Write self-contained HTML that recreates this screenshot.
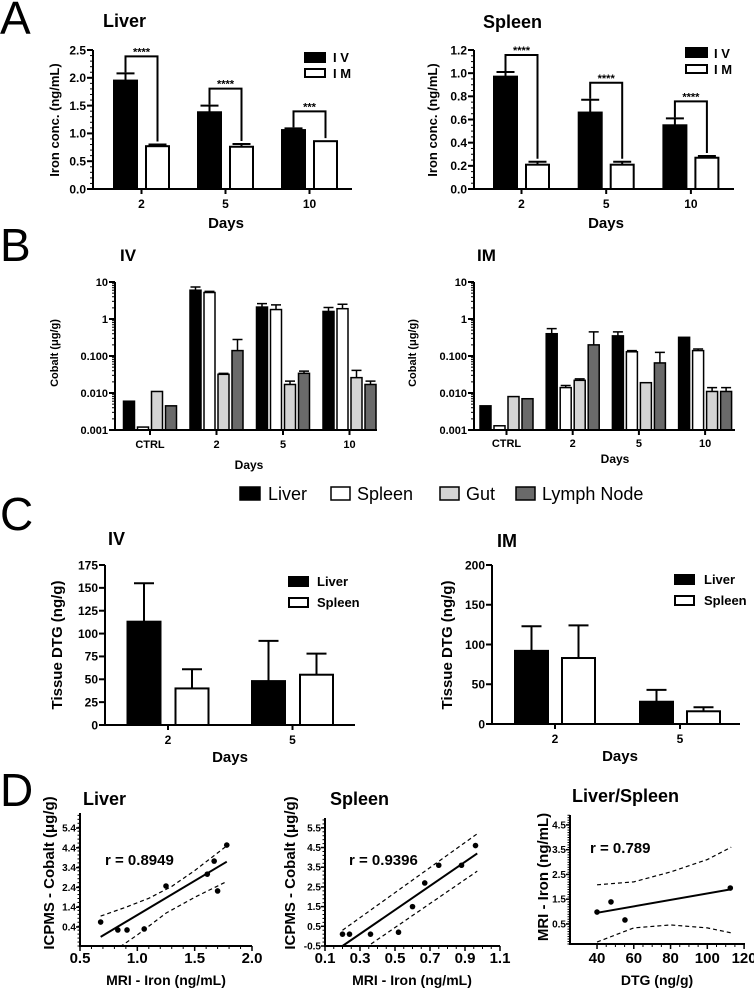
<!DOCTYPE html>
<html><head><meta charset="utf-8">
<style>
body{margin:0;background:#fff;}
svg{display:block;font-family:"Liberation Sans",Arial,sans-serif;}
.b{font-weight:bold;}
.n{font-family:"Liberation Sans Narrow","Liberation Sans",sans-serif;font-weight:bold;}
</style></head>
<body>
<svg id="fig" width="754" height="989" viewBox="0 0 754 989" xmlns="http://www.w3.org/2000/svg">
<rect x="0" y="0" width="754" height="989" fill="#fff"/>
<text x="0" y="34" font-size="46">A</text>
<text x="0" y="261" font-size="46">B</text>
<text x="0" y="530" font-size="46">C</text>
<text x="0" y="806" font-size="46">D</text>
<text x="103" y="27" class="b" font-size="18">Liver</text>
<text x="483" y="28" class="b" font-size="18">Spleen</text>
<text transform="translate(59,120) rotate(-90)" text-anchor="middle" class="b" font-size="13">Iron conc. (ng/mL)</text>
<text transform="translate(437,120) rotate(-90)" text-anchor="middle" class="b" font-size="13">Iron conc. (ng/mL)</text>
<text x="226" y="228" text-anchor="middle" class="b" font-size="15">Days</text>
<text x="606" y="228" text-anchor="middle" class="b" font-size="15">Days</text>
<rect x="305" y="53" width="20" height="9" fill="#000" stroke="#000" stroke-width="2"/>
<text x="333" y="62" class="b" font-size="13">I V</text>
<rect x="305" y="69" width="20" height="8" fill="#fff" stroke="#000" stroke-width="2"/>
<text x="333" y="78" class="b" font-size="13">I M</text>
<rect x="686" y="48" width="21" height="9" fill="#000" stroke="#000" stroke-width="2"/>
<text x="714" y="58" class="b" font-size="13">I V</text>
<rect x="686" y="65" width="21" height="8" fill="#fff" stroke="#000" stroke-width="2"/>
<text x="714" y="74" class="b" font-size="13">I M</text>
<text x="120" y="261" class="b" font-size="17">IV</text>
<text x="477" y="261" class="b" font-size="17">IM</text>
<text transform="translate(58,353) rotate(-90)" text-anchor="middle" class="b" font-size="11">Cobalt (μg/g)</text>
<text transform="translate(416,353) rotate(-90)" text-anchor="middle" class="b" font-size="11">Cobalt (μg/g)</text>
<text x="249" y="469" text-anchor="middle" class="b" font-size="12">Days</text>
<text x="615" y="463" text-anchor="middle" class="b" font-size="12">Days</text>
<rect x="240" y="487" width="20" height="13" fill="#000" stroke="#000" stroke-width="1.5"/>
<text x="268" y="500" font-size="18">Liver</text>
<rect x="331" y="487" width="19" height="13" fill="#fff" stroke="#000" stroke-width="1.5"/>
<text x="357" y="500" font-size="18">Spleen</text>
<rect x="440" y="487" width="19" height="13" fill="#d4d4d4" stroke="#000" stroke-width="1.5"/>
<text x="466" y="500" font-size="18">Gut</text>
<rect x="516" y="487" width="19" height="13" fill="#6a6a6a" stroke="#000" stroke-width="1.5"/>
<text x="542" y="500" font-size="18">Lymph Node</text>
<text x="108" y="545" class="b" font-size="18">IV</text>
<text x="497" y="547" class="b" font-size="18">IM</text>
<text transform="translate(62,645) rotate(-90)" text-anchor="middle" class="b" font-size="15">Tissue DTG (ng/g)</text>
<text transform="translate(452,645) rotate(-90)" text-anchor="middle" class="b" font-size="15">Tissue DTG (ng/g)</text>
<text x="230" y="762" text-anchor="middle" class="b" font-size="15">Days</text>
<text x="620" y="761" text-anchor="middle" class="b" font-size="15">Days</text>
<rect x="289" y="577" width="19" height="9" fill="#000" stroke="#000" stroke-width="2"/>
<text x="317" y="586" class="b" font-size="13">Liver</text>
<rect x="289" y="598" width="19" height="9" fill="#fff" stroke="#000" stroke-width="2"/>
<text x="317" y="607" class="b" font-size="13">Spleen</text>
<rect x="675" y="575" width="19" height="9" fill="#000" stroke="#000" stroke-width="2"/>
<text x="704" y="584" class="b" font-size="13">Liver</text>
<rect x="675" y="596" width="19" height="9" fill="#fff" stroke="#000" stroke-width="2"/>
<text x="704" y="605" class="b" font-size="13">Spleen</text>
<text x="83" y="805" class="n" font-size="18">Liver</text>
<text x="330" y="805" class="n" font-size="18">Spleen</text>
<text x="572" y="802" class="n" font-size="18">Liver/Spleen</text>
<text x="105" y="865" class="n" font-size="15">r = 0.8949</text>
<text x="349" y="865" class="n" font-size="15">r = 0.9396</text>
<text x="590" y="853" class="n" font-size="15">r = 0.789</text>
<text transform="translate(54,873) rotate(-90)" text-anchor="middle" class="n" font-size="15">ICPMS - Cobalt (μg/g)</text>
<text transform="translate(295,873) rotate(-90)" text-anchor="middle" class="n" font-size="15">ICPMS - Cobalt (μg/g)</text>
<text transform="translate(548,877) rotate(-90)" text-anchor="middle" class="n" font-size="15">MRI - Iron (ng/mL)</text>
<text x="166" y="985" text-anchor="middle" class="n" font-size="14">MRI - Iron (ng/mL)</text>
<text x="412" y="985" text-anchor="middle" class="n" font-size="14">MRI - Iron (ng/mL)</text>
<text x="657" y="985" text-anchor="middle" class="n" font-size="14">DTG  (ng/g)</text>
<g id="marks"></g>
</svg>
<script>
const aDays = ["2","5","10"];
const aLiverIV = [1.95, 1.38, 1.06];
const aLiverIVErr = [0.13, 0.12, 0.03];
const aLiverIM = [0.77, 0.76, 0.86];
const aLiverIMErr = [0.03, 0.05, 0.0];
const aLiverSig = ["****","****","***"];
const aLiverTicks = [0, 0.5, 1.0, 1.5, 2.0, 2.5];
const aLiverTickLabels = ["0.0","0.5","1.0","1.5","2.0","2.5"];
const aSpleenIV = [0.97, 0.66, 0.55];
const aSpleenIVErr = [0.04, 0.11, 0.06];
const aSpleenIM = [0.21, 0.21, 0.27];
const aSpleenIMErr = [0.025, 0.025, 0.015];
const aSpleenSig = ["****","****","****"];
const aSpleenTicks = [0, 0.2, 0.4, 0.6, 0.8, 1.0, 1.2];
const aSpleenTickLabels = ["0.0","0.2","0.4","0.6","0.8","1.0","1.2"];
const bCats = ["CTRL","2","5","10"];
const bTicks = [0.001, 0.01, 0.1, 1, 10];
const bTickLabels = ["0.001","0.010","0.100","1","10"];
const bIVLiver = [0.006, 6.0, 2.1, 1.6];
const bIVLiverErr = [0, 1.3, 0.5, 0.45];
const bIVSpleen = [0.0012, 5.2, 1.8, 1.9];
const bIVSpleenErr = [0, 0.4, 0.6, 0.6];
const bIVGut = [0.011, 0.032, 0.017, 0.026];
const bIVGutErr = [0, 0.002, 0.004, 0.015];
const bIVLymph = [0.0045, 0.14, 0.034, 0.017];
const bIVLymphErr = [0, 0.14, 0.005, 0.004];
const bIMLiver = [0.0045, 0.4, 0.35, 0.32];
const bIMLiverErr = [0, 0.15, 0.1, 0];
const bIMSpleen = [0.0013, 0.014, 0.13, 0.14];
const bIMSpleenErr = [0, 0.002, 0.01, 0.015];
const bIMGut = [0.008, 0.022, 0.019, 0.011];
const bIMGutErr = [0, 0.002, 0, 0.003];
const bIMLymph = [0.007, 0.2, 0.065, 0.011];
const bIMLymphErr = [0, 0.25, 0.06, 0.003];
const cDays = ["2","5"];
const cIVLiver = [113, 48];
const cIVLiverErr = [42, 44];
const cIVSpleen = [40, 55];
const cIVSpleenErr = [21, 23];
const cIVTicks = [0,25,50,75,100,125,150,175];
const cIVTickLabels = ["0","25","50","75","100","125","150","175"];
const cIMLiver = [92, 28];
const cIMLiverErr = [31, 15];
const cIMSpleen = [83, 16];
const cIMSpleenErr = [41, 5];
const cIMTicks = [0,50,100,150,200];
const cIMTickLabels = ["0","50","100","150","200"];
const dLiverX = [0.68, 0.83, 0.91, 1.06, 1.25, 1.61, 1.67, 1.70, 1.78];
const dLiverY = [0.65, 0.25, 0.25, 0.3, 2.47, 3.07, 3.73, 2.22, 4.54];
const dLiverFitX = [0.68, 1.78];
const dLiverFitY = [-0.1, 3.7];
const dLiverBandX = [0.68, 0.9, 1.1, 1.3, 1.5, 1.78];
const dLiverBandUp = [0.95, 1.4, 1.85, 2.45, 3.25, 4.5];
const dLiverBandLoX = [0.85, 1.0, 1.25, 1.5, 1.78];
const dLiverBandLo = [-0.6, 0.0, 1.1, 1.9, 2.7];
const dLiverXTicks = [0.5, 1.0, 1.5, 2.0];
const dLiverXTickLabels = ["0.5","1.0","1.5","2.0"];
const dLiverYTicks = [0.4, 1.4, 2.4, 3.4, 4.4, 5.4];
const dLiverYTickLabels = ["0.4","1.4","2.4","3.4","4.4","5.4"];
const dSpleenX = [0.2, 0.24, 0.36, 0.52, 0.6, 0.67, 0.75, 0.88, 0.96];
const dSpleenY = [0.1, 0.1, 0.1, 0.2, 1.5, 2.7, 3.6, 3.6, 4.6];
const dSpleenFitX = [0.2, 0.97];
const dSpleenFitY = [-0.5, 4.2];
const dSpleenBandUpX = [0.2, 0.97];
const dSpleenBandUp = [0.3, 5.2];
const dSpleenBandLoX = [0.33, 0.97];
const dSpleenBandLo = [-0.6, 3.3];
const dSpleenXTicks = [0.1, 0.3, 0.5, 0.7, 0.9, 1.1];
const dSpleenXTickLabels = ["0.1","0.3","0.5","0.7","0.9","1.1"];
const dSpleenYTicks = [-0.5, 0.5, 1.5, 2.5, 3.5, 4.5, 5.5];
const dSpleenYTickLabels = ["-0.5","0.5","1.5","2.5","3.5","4.5","5.5"];
const dLSX = [40, 47.6, 55.2, 112.5];
const dLSY = [0.98, 1.39, 0.66, 1.95];
const dLSFitX = [40, 113];
const dLSFitY = [0.95, 1.9];
const dLSBandX = [40, 60, 80, 100, 113];
const dLSBandUp = [2.08, 2.2, 2.6, 3.1, 3.6];
const dLSBandLo = [-0.23, 0.34, 0.46, 0.34, 0.14];
const dLSXTicks = [40, 60, 80, 100, 120];
const dLSXTickLabels = ["40","60","80","100","120"];
const dLSYTicks = [0.5, 1.5, 2.5, 3.5, 4.5];
const dLSYTickLabels = ["0.5","1.5","2.5","3.5","4.5"];

const NS = "http://www.w3.org/2000/svg";
const root = document.getElementById("marks");
function el(tag, attrs, parent) {
  const e = document.createElementNS(NS, tag);
  for (const k in attrs) e.setAttribute(k, attrs[k]);
  (parent || root).appendChild(e);
  return e;
}
function line(x1, y1, x2, y2, w, g) {
  return el("line", {x1:x1, y1:y1, x2:x2, y2:y2, stroke:"#000", "stroke-width":w}, g);
}
function makeY(c) {
  if (c.log) {
    const a = Math.log10(c.vmin), b = Math.log10(c.vmax);
    return v => c.yBot - (Math.log10(v) - a) / (b - a) * (c.yBot - c.yTop);
  }
  return v => c.yBot - (v - c.vmin) / (c.vmax - c.vmin) * (c.yBot - c.yTop);
}

function barChart(c, cats, series, errs, fills, sNames, ticks, tickLabels) {
  const g = el("g", {});
  
  
  const y = makeY(c);
  const xc = i => c.first + i * c.step;
  const n = series.length;
  const groupW = n * c.barW + (n - 1) * c.gap;
  if (c.log) {
    for (let d = Math.log10(c.vmin); d < Math.log10(c.vmax); d++) {
      for (let m = 2; m < 10; m++) {
        const t = line(c.x0 - 3, y(m * Math.pow(10, d)), c.x0, y(m * Math.pow(10, d)), 1, g);
        
        
      }
    }
  } else if (c.minor) {
    for (let v = c.vmin; v <= c.vmax + 1e-9; v += c.minor) {
      const t = line(c.x0 - 3, y(v), c.x0, y(v), 1, g);
      
      
    }
  }
  for (let s = 0; s < n; s++) {
    for (let i = 0; i < cats.length; i++) {
      const v = series[s][i];
      const bx = xc(i) - groupW / 2 + s * (c.barW + c.gap);
      const top = y(v);
      const r = el("rect", {x:bx, y:top, width:c.barW, height:c.yBot - top, fill:fills[s], stroke:"#000", "stroke-width":c.sw || 2}, g);
      
      
      const e = errs[s][i];
      if (e > 0) {
        const ex = bx + c.barW / 2;
        const ey = y(v + e);
        const eg = el("path", {d:"M" + ex + " " + top + "V" + ey + "M" + (ex - c.cap) + " " + ey + "H" + (ex + c.cap), stroke:"#000", "stroke-width":c.sw || 2, fill:"none"}, g);
        
        
      }
    }
  }
  const ya = line(c.x0, c.yBot + 1, c.x0, c.yTop, 2, g);
  
  
  const xa = line(c.x0, c.yBot, c.x1, c.yBot, 2, g);
  
  
  for (let k = 0; k < ticks.length; k++) {
    const ty = y(ticks[k]);
    const t = line(c.x0 - 6, ty, c.x0, ty, 2, g);
    
    
    const tl = el("text", {x:c.x0 - 7, y:ty + c.fs * 0.36, "text-anchor":"end", "font-size":c.fs, "font-weight":"bold"}, g);
    tl.textContent = tickLabels[k];
    
    
  }
  for (let i = 0; i < cats.length; i++) {
    const t = line(xc(i), c.yBot, xc(i), c.yBot + 5, 2, g);
    
    
    const tl = el("text", {x:xc(i), y:c.xLabY, "text-anchor":"middle", "font-size":c.xfs || c.fs, "font-weight":"bold"}, g);
    tl.textContent = cats[i];
    
    
  }
  return {y:y, xc:xc, groupW:groupW, g:g};
}

function brackets(ch, c, iv, ivErr, im, imErr, sig) {
  for (let i = 0; i < iv.length; i++) {
    const xl = ch.xc(i) - ch.groupW / 2 + c.barW / 2;
    const xr = xl + c.barW + c.gap;
    const yl = ch.y(iv[i] + ivErr[i]) - 1;
    const yr = ch.y(im[i] + imErr[i]) - 3;
    const yh = yl - 16;
    const p = el("path", {d:"M" + xl + " " + yl + "V" + yh + "H" + xr + "V" + yr, stroke:"#000", "stroke-width":2, fill:"none"}, ch.g);
    
    
    const t = el("text", {x:(xl + xr) / 2, y:yh - 1, "text-anchor":"middle", "font-size":11, "font-weight":"bold"}, ch.g);
    t.textContent = sig[i];
    
    
  }
}

const cAL = {name:"a-liver-chart", x0:93, x1:352, yTop:50, yBot:189, vmin:0, vmax:2.5, minor:0.1, first:141.5, step:84, barW:23, gap:9, cap:9, fs:12, xLabY:208};
const chAL = barChart(cAL, aDays, [aLiverIV, aLiverIM], [aLiverIVErr, aLiverIMErr], ["#000","#fff"], ["iv","im"], aLiverTicks, aLiverTickLabels);
brackets(chAL, cAL, aLiverIV, aLiverIVErr, aLiverIM, aLiverIMErr, aLiverSig);
const cAS = {name:"a-spleen-chart", x0:474, x1:734, yTop:50, yBot:189, vmin:0, vmax:1.2, minor:0.05, first:521.5, step:84.7, barW:23, gap:9, cap:9, fs:12, xLabY:208};
const chAS = barChart(cAS, aDays, [aSpleenIV, aSpleenIM], [aSpleenIVErr, aSpleenIMErr], ["#000","#fff"], ["iv","im"], aSpleenTicks, aSpleenTickLabels);
brackets(chAS, cAS, aSpleenIV, aSpleenIVErr, aSpleenIM, aSpleenIMErr, aSpleenSig);

const bFills = ["#000","#fff","#d4d4d4","#6a6a6a"];
const bNames = ["liver","spleen","gut","lymph-node"];
barChart({name:"b-iv-chart", x0:115, x1:377, yTop:282, yBot:430, vmin:0.001, vmax:10, log:true, first:150, step:66.5, barW:11, gap:3, cap:5, sw:1.5, fs:11, xLabY:448},
  bCats, [bIVLiver, bIVSpleen, bIVGut, bIVLymph], [bIVLiverErr, bIVSpleenErr, bIVGutErr, bIVLymphErr], bFills, bNames, bTicks, bTickLabels);
barChart({name:"b-im-chart", x0:474, x1:735, yTop:282, yBot:430, vmin:0.001, vmax:10, log:true, first:506.5, step:66.2, barW:11, gap:3, cap:5, sw:1.5, fs:11, xLabY:447},
  bCats, [bIMLiver, bIMSpleen, bIMGut, bIMLymph], [bIMLiverErr, bIMSpleenErr, bIMGutErr, bIMLymphErr], bFills, bNames, bTicks, bTickLabels);

barChart({name:"c-iv-chart", x0:105, x1:355, yTop:565, yBot:725, vmin:0, vmax:175, first:168, step:124.5, barW:33, gap:15, cap:10, fs:12, xLabY:744},
  cDays, [cIVLiver, cIVSpleen], [cIVLiverErr, cIVSpleenErr], ["#000","#fff"], ["liver","spleen"], cIVTicks, cIVTickLabels);
barChart({name:"c-im-chart", x0:492, x1:740, yTop:565, yBot:724, vmin:0, vmax:200, first:555, step:125, barW:33, gap:14, cap:10, fs:12, xLabY:743},
  cDays, [cIMLiver, cIMSpleen], [cIMLiverErr, cIMSpleenErr], ["#000","#fff"], ["liver","spleen"], cIMTicks, cIMTickLabels);

function scatter(c, xs, ys, fitX, fitY, upX, up, loX, lo, xt, xtl, yt, ytl) {
  const g = el("g", {});
  
  
  const sx = v => c.px0 + (v - c.xmin) / (c.xmax - c.xmin) * (c.px1 - c.px0);
  const sy = v => c.pyBot - (v - c.ymin) / (c.ymax - c.ymin) * (c.pyBot - c.pyTop);
  const clip = "clip-" + c.name;
  const cp = el("clipPath", {id:clip}, g);
  el("rect", {x:c.px0, y:c.pyTop, width:c.px1 - c.px0, height:c.pyBot - c.pyTop}, cp);
  const inner = el("g", {"clip-path":"url(#" + clip + ")"}, g);
  function poly(X, Y, dash, w, nm) {
    const pts = X.map((v, i) => sx(v) + "," + sy(Y[i])).join(" ");
    const p = el("polyline", {points:pts, fill:"none", stroke:"#000", "stroke-width":w, "stroke-dasharray":dash}, inner);
    
    
  }
  poly(upX, up, "4,3", 1.2, "confidence-band-upper");
  poly(loX, lo, "4,3", 1.2, "confidence-band-lower");
  poly(fitX, fitY, "", 2, "regression-line");
  for (let i = 0; i < xs.length; i++) {
    const p = el("circle", {cx:sx(xs[i]), cy:sy(ys[i]), r:2.8, fill:"#000"}, g);
    
    
  }
  const ya = line(c.px0, c.pyBot + 1, c.px0, c.pyTop, 2, g);
  
  
  const xa = line(c.px0, c.pyBot, c.px1, c.pyBot, 2, g);
  
  
  for (let v = c.ymin; v <= c.ymax + 1e-9; v += c.yMinor) {
    const t = line(c.px0 - 2.5, sy(v), c.px0, sy(v), 1, g);
    
    
  }
  for (let v = xt[0]; v <= c.xmax + 1e-9; v += c.xMinor) {
    const t = line(sx(v), c.pyBot, sx(v), c.pyBot + 3, 1, g);
    
    
  }
  for (let k = 0; k < yt.length; k++) {
    const t = line(c.px0 - 4, sy(yt[k]), c.px0, sy(yt[k]), 1.5, g);
    
    
    const tl = el("text", {x:c.px0 - 4, y:sy(yt[k]) + 3.5, "text-anchor":"end", "font-size":10, "class":"n"}, g);
    tl.textContent = ytl[k];
    
    
  }
  for (let k = 0; k < xt.length; k++) {
    const t = line(sx(xt[k]), c.pyBot, sx(xt[k]), c.pyBot + 5, 1.5, g);
    
    
    const tl = el("text", {x:sx(xt[k]), y:963, "text-anchor":"middle", "font-size":15, "class":"n"}, g);
    tl.textContent = xtl[k];
    
    
  }
}
scatter({name:"d-liver-chart", px0:80, px1:252, xmin:0.5, xmax:2.0, pyTop:813, pyBot:946, ymin:-0.56, ymax:6.16, yMinor:0.2, xMinor:0.1},
  dLiverX, dLiverY, dLiverFitX, dLiverFitY, dLiverBandX, dLiverBandUp, dLiverBandLoX, dLiverBandLo,
  dLiverXTicks, dLiverXTickLabels, dLiverYTicks, dLiverYTickLabels);
scatter({name:"d-spleen-chart", px0:325, px1:500, xmin:0.1, xmax:1.1, pyTop:818, pyBot:946, ymin:-0.5, ymax:6.0, yMinor:0.2, xMinor:0.05},
  dSpleenX, dSpleenY, dSpleenFitX, dSpleenFitY, dSpleenBandUpX, dSpleenBandUp, dSpleenBandLoX, dSpleenBandLo,
  dSpleenXTicks, dSpleenXTickLabels, dSpleenYTicks, dSpleenYTickLabels);
scatter({name:"d-liver-spleen-chart", px0:570, px1:745, xmin:25.3, xmax:120.5, pyTop:815, pyBot:944, ymin:-0.31, ymax:4.9, yMinor:0.1, xMinor:5},
  dLSX, dLSY, dLSFitX, dLSFitY, dLSBandX, dLSBandUp, dLSBandX, dLSBandLo,
  dLSXTicks, dLSXTickLabels, dLSYTicks, dLSYTickLabels);
</script>
</body></html>
